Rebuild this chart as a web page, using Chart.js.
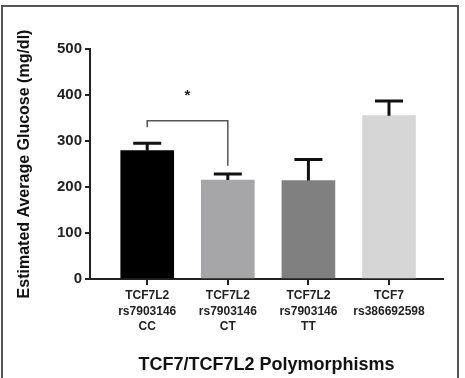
<!DOCTYPE html>
<html>
<head>
<meta charset="utf-8">
<script src="https://cdn.jsdelivr.net/npm/chart.js@4/dist/chart.umd.min.js"></script>
<style>
  html, body { margin: 0; padding: 0; background: #fff; overflow: hidden; }
  #wrap { position: relative; width: 465px; height: 378px; }
  #frame { position: absolute; left: 1px; top: 5px; width: 458px; height: 400px; border: 2px solid #555; box-sizing: border-box; pointer-events: none; }
  canvas { position: absolute; left: 0; top: 0; }
</style>
</head>
<body>
<div id="wrap">
  <canvas id="c" width="465" height="378"></canvas>
  <div id="frame"></div>
</div>
<script>
// ---- data ----
const categories = [
  ["TCF7L2", "rs7903146", "CC"],
  ["TCF7L2", "rs7903146", "CT"],
  ["TCF7L2", "rs7903146", "TT"],
  ["TCF7", "rs386692598"]
];
const meanValues = [279, 215, 214, 355];
const upperErrorValues = [295, 228, 260, 387];
const barColors = ["#000000", "#a6a6a8", "#808080", "#d6d6d6"];
const yTicks = [0, 100, 200, 300, 400, 500];
const yTitle = "Estimated Average Glucose (mg/dl)";
const xTitle = "TCF7/TCF7L2 Polymorphisms";
// significance bracket between CC (0) and CT (1)
const bracketFrom = 0, bracketTo = 1;
const bracketTop = 344, bracketLeftEnd = 330, bracketRightEnd = 246;
const starValue = 404;
const starLabel = "*";

const points = meanValues.map((v, i) => ({ x: i, y: v }));

const extrasPlugin = {
  id: 'extras',
  afterDatasetsDraw(chart) {
    const ctx = chart.ctx;
    const xs = chart.scales.x, ys = chart.scales.y;
    ctx.save();
    ctx.strokeStyle = '#111';
    ctx.lineWidth = 3;
    ctx.lineCap = 'butt';
    meanValues.forEach((m, i) => {
      const px = xs.getPixelForValue(i);
      const y0 = ys.getPixelForValue(m);
      const y1 = ys.getPixelForValue(upperErrorValues[i]);
      ctx.beginPath();
      ctx.moveTo(px, y0);
      ctx.lineTo(px, y1);
      ctx.moveTo(px - 14, y1);
      ctx.lineTo(px + 14, y1);
      ctx.stroke();
    });
    ctx.strokeStyle = '#555';
    ctx.lineWidth = 1.5;
    const lx = xs.getPixelForValue(bracketFrom), rx = xs.getPixelForValue(bracketTo);
    const ty = ys.getPixelForValue(bracketTop);
    ctx.beginPath();
    ctx.moveTo(lx, ys.getPixelForValue(bracketLeftEnd));
    ctx.lineTo(lx, ty);
    ctx.lineTo(rx, ty);
    ctx.lineTo(rx, ys.getPixelForValue(bracketRightEnd));
    ctx.stroke();
    ctx.fillStyle = '#222';
    ctx.font = 'bold 15px "Liberation Sans", Arial, sans-serif';
    ctx.textAlign = 'center';
    ctx.textBaseline = 'middle';
    ctx.fillText(starLabel, (lx + rx) / 2, ys.getPixelForValue(starValue) + 3);
    ctx.restore();
  }
};

new Chart(document.getElementById('c'), {
  type: 'bar',
  data: {
    datasets: [{
      data: points,
      backgroundColor: barColors,
      borderWidth: 0,
      barThickness: 53
    }]
  },
  options: {
    responsive: false,
    animation: false,
    devicePixelRatio: 1,
    layout: { padding: { top: 49, right: 22, left: 0, bottom: 0 } },
    plugins: { legend: { display: false }, tooltip: { enabled: false } },
    scales: {
      x: {
        type: 'linear',
        offset: false,
        min: -0.71,
        max: 3.67,
        afterFit(scale) { scale.height = 99; scale.paddingLeft = 0; scale.paddingRight = 0; },
        afterBuildTicks(scale) { scale.ticks = categories.map((c, i) => ({ value: i })); },
        ticks: {
          autoSkip: false,
          maxRotation: 0,
          padding: 3,
          color: '#222',
          font: { family: '"Liberation Sans", Arial, sans-serif', size: 12, weight: 'bold', lineHeight: 1.3 },
          callback(v) { return categories[v] || ''; }
        },
        grid: { display: true, offset: false, drawOnChartArea: false, drawTicks: true, tickLength: 6, color: '#222', lineWidth: 2 },
        border: { display: true, color: '#222', width: 2 },
        title: {
          display: true,
          text: xTitle,
          color: '#111',
          font: { family: '"Liberation Sans", Arial, sans-serif', size: 18, weight: 'bold', lineHeight: 1.2 },
          padding: { top: 0, bottom: 2 }
        }
      },
      y: {
        min: 0,
        max: 500,
        afterFit(scale) { scale.width = 90; scale.paddingTop = 0; scale.paddingBottom = 0; },
        afterBuildTicks(scale) { scale.ticks = yTicks.map(v => ({ value: v })); },
        ticks: {
          padding: 3,
          color: '#222',
          font: { family: '"Liberation Sans", Arial, sans-serif', size: 15, weight: 'bold' }
        },
        grid: { display: true, drawOnChartArea: false, drawTicks: true, tickLength: 5, color: '#222', lineWidth: 2 },
        border: { display: true, color: '#222', width: 2 },
        title: {
          display: true,
          text: yTitle,
          color: '#111',
          font: { family: '"Liberation Sans", Arial, sans-serif', size: 16, weight: 'bold', lineHeight: 1.2 },
          padding: { top: 15, bottom: 0 }
        }
      }
    }
  },
  plugins: [extrasPlugin]
});
</script>
</body>
</html>
